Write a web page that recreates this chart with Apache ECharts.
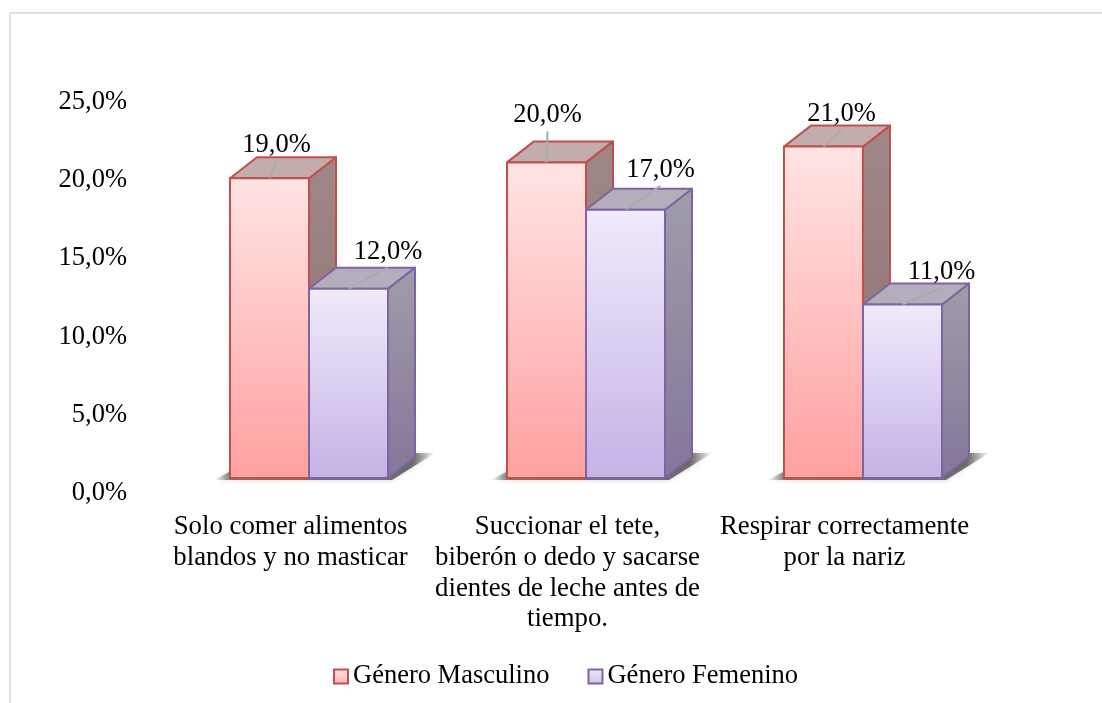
<!DOCTYPE html>
<html><head><meta charset="utf-8">
<style>html,body{margin:0;padding:0;background:#fff}#c{width:1102px;height:703px}</style>
<script src="https://cdn.jsdelivr.net/npm/echarts@6/dist/echarts.min.js"></script>
</head><body><div id="c"></div>
<script>
const categories = ['Solo comer alimentos\nblandos y no masticar','Succionar el tete,\nbiberón o dedo y sacarse\ndientes de leche antes de\ntiempo.','Respirar correctamente\npor la nariz'];
const masculino = [19, 20, 21];
const femenino = [12, 17, 11];
const yMax = 25, yStep = 5;
const maleLabelShift = [[7,-35],[1,-49],[18,-35]];
const femaleLabelShift = [[39.5,-39],[35,-42],[39,-34]];
const FONT = '"Liberation Serif","Times New Roman",serif';
const FS = 26.5;
const DX = 27, DY = -21, BAR = 0.2852;
const lin = (a,b)=>({type:'linear',x:0,y:0,x2:0,y2:1,colorStops:[{offset:0,color:a},{offset:1,color:b}]});
const styles = {
  m:{front:lin('#FFE4E4','#FFA0A0'),top:'#C2ACAC',side:lin('#A08888','#8E6E6E'),line:'#C0504D'},
  f:{front:lin('#F0EAFB','#C4B2E6'),top:'#B4ADBC',side:lin('#A09CA8','#84769A'),line:'#8064A2'}
};
const fmt = v => v.toFixed(1).replace('.',',') + '%';
function barRender(st, sign, shifts){
  return function(params, api){
    const i = api.value(0), v = api.value(1);
    const top = api.coord([i, v]), base = api.coord([i, 0]);
    const w = api.size([1,0])[0]*BAR;
    const x0 = sign<0 ? top[0]-w : top[0], x1 = x0+w, y0 = top[1], y1 = base[1];
    const cx = (x0+x1)/2, sh = shifts[i];
    const line = {stroke:st.line,lineWidth:2,lineJoin:'round'};
    const lx = cx+sh[0], ly = y0+sh[1];
    return {type:'group',children:[
      {type:'polygon',shape:{points:[[x1,y0],[x1+DX,y0+DY],[x1+DX,y1+DY],[x1,y1]]},style:{fill:st.side,...line}},
      {type:'polygon',shape:{points:[[x0,y0],[x0+DX,y0+DY],[x1+DX,y0+DY],[x1,y0]]},style:{fill:st.top,...line}},
      {type:'rect',shape:{x:x0,y:y0,width:w,height:y1-y0},style:{fill:st.front,...line}},
      {type:'line',shape:{x1:cx,y1:y0,x2:lx,y2:ly+18},style:{stroke:'#A9ABA9',lineWidth:2}},
      {type:'text',x:lx,y:ly+2,style:{text:fmt(v),fill:'#000',font:FS+'px '+FONT,align:'center',verticalAlign:'middle'}}
    ]};
  };
}
function shadowRender(params, api){
  const i = api.value(0);
  const c = api.coord([i,0]);
  const w = api.size([1,0])[0]*BAR;
  const y = c[1];
  const fill = {type:'linear',x:0,y:0,x2:1,y2:0,colorStops:[
    {offset:0,color:'rgba(90,90,90,0)'},{offset:0.08,color:'rgba(80,80,80,0.75)'},
    {offset:0.9,color:'rgba(80,80,80,0.8)'},{offset:1,color:'rgba(90,90,90,0)'}]};
  return {type:'polygon',shape:{points:[[c[0]-w-16,y+2],[c[0]+w+4,y+2],[c[0]+w+DX+20,y-25],[c[0]-w+DX+8,y-25]]},
    style:{fill:fill,shadowBlur:5,shadowColor:'rgba(90,90,90,0.35)'}};
}
const chart = echarts.init(document.getElementById('c'),null,{renderer:'canvas'});
chart.setOption({
  animation:false,
  backgroundColor:'#fff',
  graphic:[
    {type:'line',shape:{x1:10,y1:13,x2:1102,y2:13},style:{stroke:'#D9D9D9',lineWidth:1.5}},
    {type:'line',shape:{x1:10,y1:13,x2:10,y2:703},style:{stroke:'#D9D9D9',lineWidth:1.5}}
  ],
  grid:[
    {left:152,right:119,top:102,bottom:210},
    {left:170.5,right:100.5,top:83.5,bottom:225}
  ],
  xAxis:[
    {type:'category',gridIndex:0,data:categories,axisLine:{show:false},axisTick:{show:false},
     axisLabel:{interval:0,margin:19,lineHeight:30.7,color:'#000',fontFamily:FONT,fontSize:26.8,align:'center'}},
    {type:'category',gridIndex:1,data:categories,show:false}
  ],
  yAxis:[
    {type:'value',gridIndex:0,min:0,max:yMax,interval:yStep,splitLine:{show:false},axisLine:{show:false},axisTick:{show:false},
     axisLabel:{margin:25,color:'#000',fontFamily:FONT,fontSize:FS,formatter:fmt}},
    {type:'value',gridIndex:1,min:0,max:yMax,interval:yStep,show:false,splitLine:{show:false}}
  ],
  legend:{left:328,top:658,itemWidth:14,itemHeight:14,itemGap:38,icon:'rect',
    data:['Género Masculino','Género Femenino'],
    textStyle:{color:'#000',fontFamily:FONT,fontSize:FS}},
  series:[
    {type:'custom',name:'shadow',xAxisIndex:1,yAxisIndex:1,z:1,renderItem:shadowRender,silent:true,
     encode:{x:0,y:1},data:categories.map((c,i)=>[i,0])},
    {type:'custom',name:'Género Masculino',xAxisIndex:1,yAxisIndex:1,z:2,renderItem:barRender(styles.m,-1,maleLabelShift),
     encode:{x:0,y:1},data:masculino.map((v,i)=>[i,v]),
     itemStyle:{color:lin('#FFE4E4','#FFB4B4'),borderColor:styles.m.line,borderWidth:2}},
    {type:'custom',name:'Género Femenino',xAxisIndex:1,yAxisIndex:1,z:3,renderItem:barRender(styles.f,1,femaleLabelShift),
     encode:{x:0,y:1},data:femenino.map((v,i)=>[i,v]),
     itemStyle:{color:lin('#F0EAFB','#CFC0EA'),borderColor:styles.f.line,borderWidth:2}}
  ]
});
</script></body></html>
